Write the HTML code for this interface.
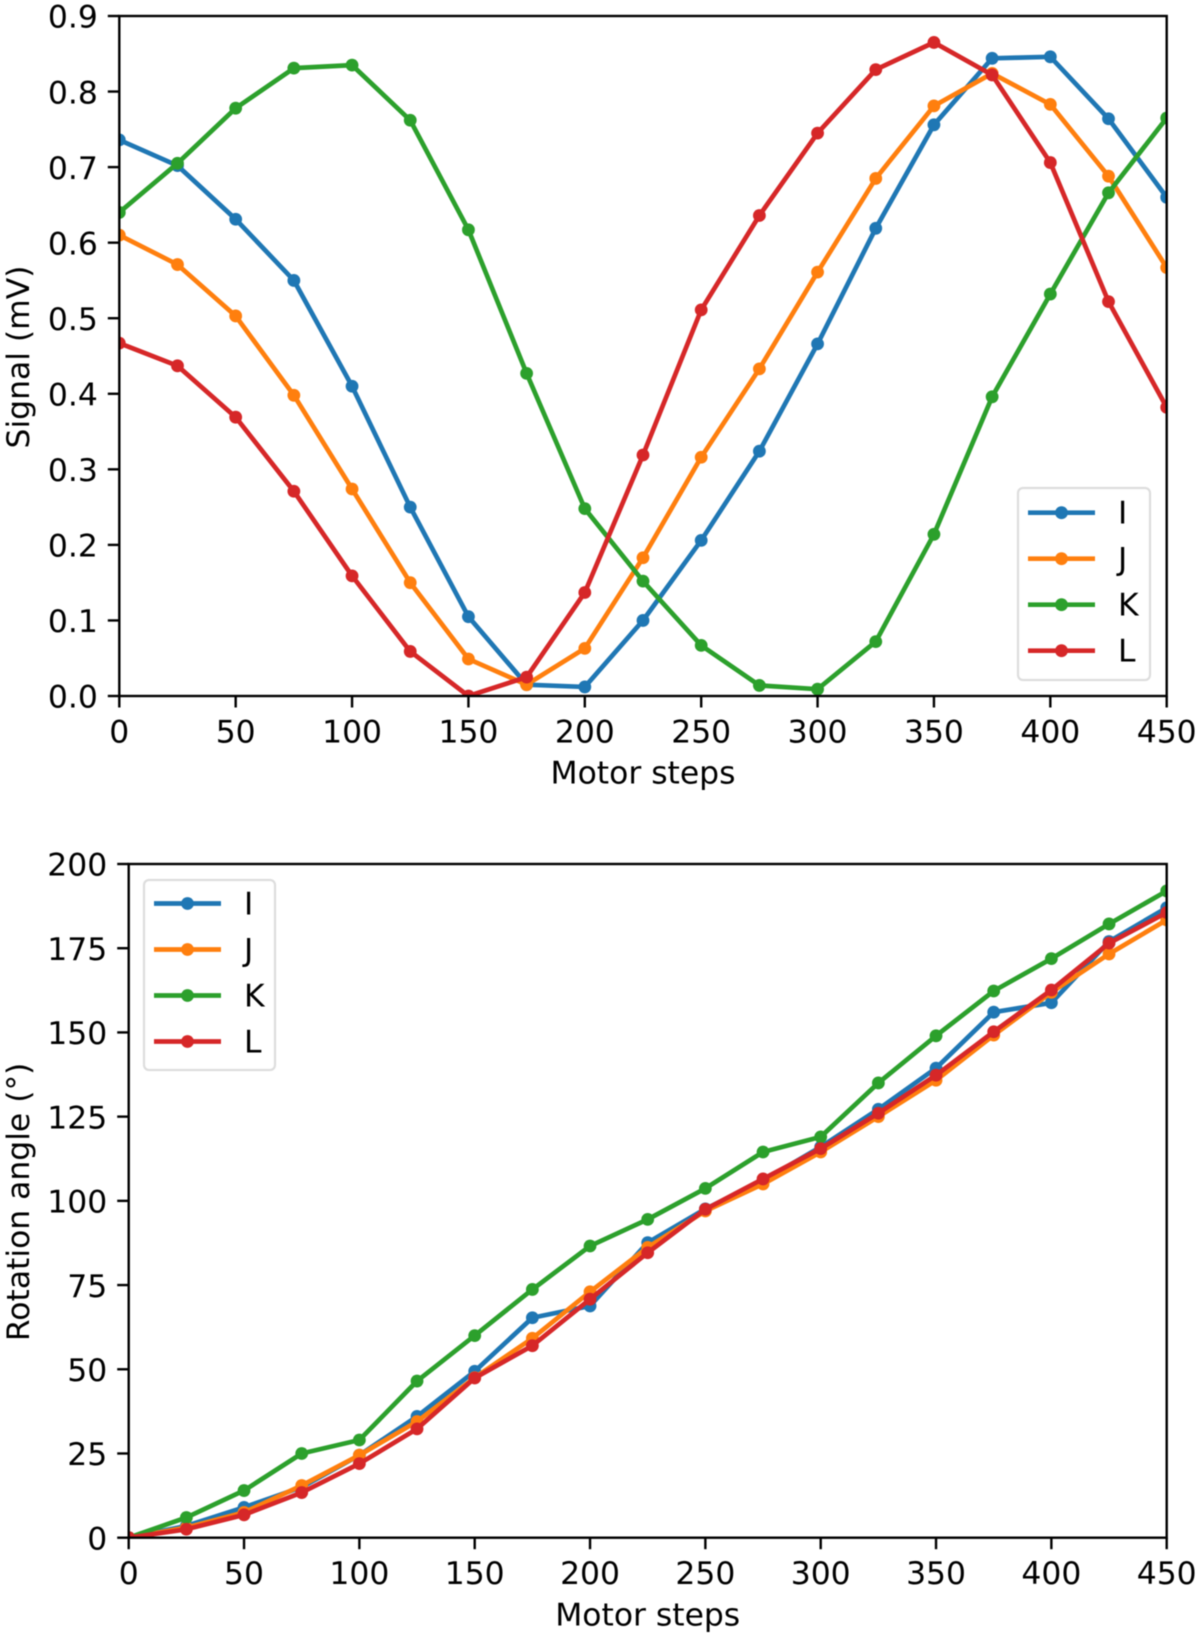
<!DOCTYPE html>
<html lang="en">
<head>
<meta charset="utf-8">
<title>Signal and rotation angle versus motor steps</title>
<style>
html,body{margin:0;padding:0;background:#fff;}
body{width:1200px;height:1638px;overflow:hidden;}
svg{display:block;filter:blur(0.5px);}
text{font-family:"DejaVu Sans","Liberation Sans",sans-serif;font-size:31.4px;fill:#000;}
</style>
</head>
<body>
<svg id="figure" xmlns="http://www.w3.org/2000/svg" width="1200" height="1638" viewBox="0 0 1200 1638"></svg>
<script>
const steps = [0,25,50,75,100,125,150,175,200,225,250,275,300,325,350,375,400,425,450];
const seriesNames = ['I','J','K','L'];
const seriesColors = ['#1f77b4','#ff7f0e','#2ca02c','#d62728'];

const signalI = [0.736,0.702,0.631,0.550,0.410,0.250,0.105,0.015,0.012,0.100,0.206,0.324,0.466,0.619,0.756,0.844,0.846,0.764,0.660];
const signalJ = [0.610,0.571,0.503,0.398,0.274,0.150,0.049,0.015,0.063,0.183,0.316,0.433,0.561,0.685,0.781,0.824,0.783,0.688,0.567];
const signalK = [0.640,0.705,0.778,0.831,0.835,0.762,0.617,0.427,0.248,0.152,0.067,0.014,0.009,0.072,0.214,0.396,0.532,0.666,0.765];
const signalL = [0.467,0.437,0.369,0.271,0.159,0.059,0.000,0.025,0.137,0.319,0.511,0.636,0.745,0.829,0.865,0.822,0.706,0.522,0.382];

const angleI = [0,3.5,9,15,24.5,36,49.4,65.3,68.8,87.6,97.6,106,116,127.2,139.4,156,158.8,177,187];
const angleJ = [0,3,7.5,15.5,24.5,34.5,47.5,59.2,73,86.2,97,105,114.5,125,135.8,149.2,161.9,173.3,183.4];
const angleK = [0,6,14,25,29,46.5,60,73.7,86.6,94.5,103.7,114.5,119,135,149,162.3,171.9,182.2,192];
const angleL = [0,2.5,6.8,13.4,22,32.3,47.4,57,70.8,84.6,97.5,106.5,115.5,126,137.3,150.2,162.6,176.5,185.6];

const xTicks = [0,50,100,150,200,250,300,350,400,450];
const signalTicks = ['0.0','0.1','0.2','0.3','0.4','0.5','0.6','0.7','0.8','0.9'];
const angleTicks = ['0','25','50','75','100','125','150','175','200'];

const svg = document.getElementById('figure');
const NS = 'http://www.w3.org/2000/svg';

function make(tag, attrs, parent) {
  const el = document.createElementNS(NS, tag);
  for (const k in attrs) el.setAttribute(k, attrs[k]);
  parent.appendChild(el);
  return el;
}

function drawPanel(cfg) {
  const xScale = v => cfg.left + (v - cfg.xMin) / (cfg.xMax - cfg.xMin) * (cfg.right - cfg.left);
  const yScale = v => cfg.bottom - (v - cfg.yMin) / (cfg.yMax - cfg.yMin) * (cfg.bottom - cfg.top);

  const panel = make('g', {}, svg);
  
  

  const clip = make('clipPath', {id: cfg.id + '-clip'}, panel);
  make('rect', {x: cfg.left, y: cfg.top, width: cfg.right - cfg.left, height: cfg.bottom - cfg.top}, clip);

  const marks = make('g', {'clip-path': 'url(#' + cfg.id + '-clip)'}, panel);
  
  

  cfg.series.forEach((values, i) => {
    const group = make('g', {}, marks);
    
    
    const pts = values.map((v, j) => xScale(steps[j]).toFixed(2) + ',' + yScale(v).toFixed(2)).join(' ');
    const line = make('polyline', {points: pts, fill: 'none', stroke: seriesColors[i], 'stroke-width': 4.7, 'stroke-linejoin': 'round', 'stroke-linecap': 'square'}, group);
    
    
    values.forEach((v, j) => {
      const dot = make('circle', {cx: xScale(steps[j]).toFixed(2), cy: yScale(v).toFixed(2), r: 6.4, fill: seriesColors[i]}, group);
      
      
    });
  });

  const spineAttrs = {stroke: '#000', 'stroke-width': 2.4, fill: 'none', 'stroke-linecap': 'square'};
  const frame = make('rect', Object.assign({x: cfg.left, y: cfg.top, width: cfg.right - cfg.left, height: cfg.bottom - cfg.top}, spineAttrs), panel);
  
  

  xTicks.forEach(t => {
    const x = xScale(t);
    const tick = make('line', {x1: x, x2: x, y1: cfg.bottom, y2: cfg.bottom + 11.5, stroke: '#000', 'stroke-width': 2.4}, panel);
    
    
    const label = make('text', {x: x, y: cfg.bottom + 46.5, 'text-anchor': 'middle'}, panel);
    label.textContent = String(t);
    
    
  });

  cfg.yTicks.forEach(t => {
    const y = yScale(parseFloat(t));
    const tick = make('line', {x1: cfg.left - 11.5, x2: cfg.left, y1: y, y2: y, stroke: '#000', 'stroke-width': 2.4}, panel);
    
    
    const label = make('text', {x: cfg.left - 21.5, y: y + 11.7, 'text-anchor': 'end'}, panel);
    label.textContent = t;
    
    
  });

  const xTitle = make('text', {x: (cfg.left + cfg.right) / 2, y: cfg.bottom + 87.6, 'text-anchor': 'middle'}, panel);
  xTitle.textContent = 'Motor steps';
  
  

  const cy = (cfg.top + cfg.bottom) / 2 + 1;
  const yTitle = make('text', {x: 0, y: 0, 'text-anchor': 'middle', transform: 'translate(29,' + cy + ') rotate(-90)'}, panel);
  yTitle.textContent = cfg.yTitle;
  
  

  const legend = make('g', {}, panel);
  
  
  const L = cfg.legend;
  const box = make('rect', {x: L.x, y: L.y, width: L.w, height: L.h, rx: 5, ry: 5, fill: '#fff', 'fill-opacity': 0.8, stroke: '#ddd', 'stroke-width': 2.2}, legend);
  
  
  seriesNames.forEach((name, i) => {
    const y = L.firstRow + i * 46;
    const entry = make('g', {}, legend);
    
    
    make('line', {x1: L.x + 10, x2: L.x + 77, y1: y, y2: y, stroke: seriesColors[i], 'stroke-width': 4.7}, entry);
    make('circle', {cx: L.x + 43.5, cy: y, r: 6.4, fill: seriesColors[i]}, entry);
    const t = make('text', {x: L.x + 100, y: y + 11}, entry);
    t.textContent = name;
  });
}

drawPanel({
  id: 'signal',
  left: 119.3, right: 1166.7, top: 16, bottom: 696,
  xMin: 0, xMax: 450, yMin: 0, yMax: 0.9,
  series: [signalI, signalJ, signalK, signalL],
  yTicks: signalTicks,
  yTitle: 'Signal (mV)',
  legend: {x: 1018, y: 488, w: 132, h: 192, firstRow: 512.7}
});

drawPanel({
  id: 'angle',
  left: 128.7, right: 1166.7, top: 864, bottom: 1537.7,
  xMin: 0, xMax: 450, yMin: 0, yMax: 200,
  series: [angleI, angleJ, angleK, angleL],
  yTicks: angleTicks,
  yTitle: 'Rotation angle (°)',
  legend: {x: 144, y: 880, w: 131, h: 190, firstRow: 903.5}
});
</script>
</body>
</html>
